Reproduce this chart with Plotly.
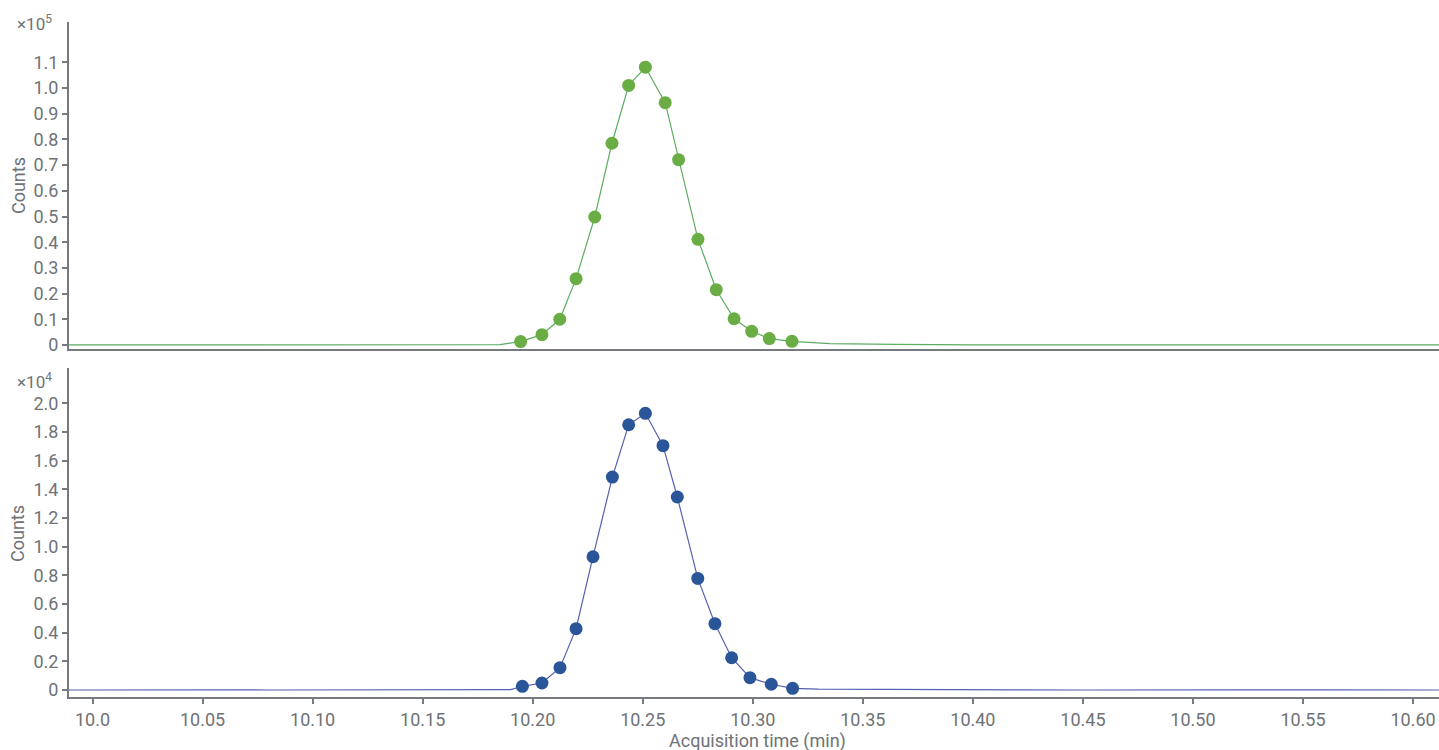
import plotly.graph_objects as go
from plotly.subplots import make_subplots

# ---- data ----
# peak scan points (acquisition time, min)
green_peak_t = [10.1945, 10.2042, 10.2123, 10.2197, 10.2282, 10.2360, 10.2436, 10.2512,
                10.2602, 10.2663, 10.2751, 10.2834, 10.2915, 10.2995, 10.3075, 10.3178]
green_peak_y = [1300, 4000, 10000, 25800, 49800, 78500, 101000, 108100,
                94300, 72100, 41100, 21500, 10200, 5300, 2500, 1400]

blue_peak_t = [10.1953, 10.2042, 10.2124, 10.2197, 10.2274, 10.2362, 10.2436, 10.2512,
               10.2592, 10.2657, 10.2750, 10.2828, 10.2904, 10.2987, 10.3084, 10.3181]
blue_peak_y = [260, 490, 1560, 4280, 9300, 14860, 18510, 19310,
               17050, 13470, 7790, 4630, 2250, 860, 400, 120]

# baseline segments of the traces outside the peak
green_pre_t = [9.989, 10.10, 10.185]
green_pre_y = [0, 0, 100]
green_post_t = [10.335, 10.365, 10.40, 10.50, 10.612]
green_post_y = [500, 200, 0, 0, 0]

blue_pre_t = [9.989, 10.01, 10.02, 10.04, 10.065, 10.08, 10.15, 10.19]
blue_pre_y = [0, 15, 0, 0, 15, 0, 0, 30]
blue_post_t = [10.33, 10.36, 10.39, 10.45, 10.52, 10.54, 10.56, 10.612]
blue_post_y = [60, 40, 15, 0, 15, 0, 12, 0]

top_ticks = [0, 10000, 20000, 30000, 40000, 50000, 60000, 70000, 80000, 90000, 100000, 110000]
top_labels = ["0", "0.1", "0.2", "0.3", "0.4", "0.5", "0.6", "0.7", "0.8", "0.9", "1.0", "1.1"]
bot_ticks = [0, 2000, 4000, 6000, 8000, 10000, 12000, 14000, 16000, 18000, 20000]
bot_labels = ["0", "0.2", "0.4", "0.6", "0.8", "1.0", "1.2", "1.4", "1.6", "1.8", "2.0"]
x_ticks = [10.0, 10.05, 10.10, 10.15, 10.20, 10.25, 10.30, 10.35, 10.40, 10.45, 10.50, 10.55, 10.60]
x_labels = ["10.0", "10.05", "10.10", "10.15", "10.20", "10.25", "10.30", "10.35",
            "10.40", "10.45", "10.50", "10.55", "10.60"]

# ---- styles ----
AXIS = "#76797e"
TXT = "#6f7277"
FONT = "Roboto"
G_LINE = "#5cad62"
G_MARK = "#6aad45"
B_LINE = "#5560b0"
B_MARK = "#2a5598"

fig = make_subplots(rows=2, cols=1, shared_xaxes=True, vertical_spacing=0.028)

fig.add_trace(go.Scatter(x=green_pre_t + green_peak_t + green_post_t,
                         y=green_pre_y + green_peak_y + green_post_y,
                         mode="lines", line=dict(color=G_LINE, width=1.2),
                         hoverinfo="skip", showlegend=False), row=1, col=1)
fig.add_trace(go.Scatter(x=green_peak_t, y=green_peak_y, mode="markers",
                         marker=dict(color=G_MARK, size=13),
                         showlegend=False), row=1, col=1)

fig.add_trace(go.Scatter(x=blue_pre_t + blue_peak_t + blue_post_t,
                         y=blue_pre_y + blue_peak_y + blue_post_y,
                         mode="lines", line=dict(color=B_LINE, width=1.2),
                         hoverinfo="skip", showlegend=False), row=2, col=1)
fig.add_trace(go.Scatter(x=blue_peak_t, y=blue_peak_y, mode="markers",
                         marker=dict(color=B_MARK, size=13),
                         showlegend=False), row=2, col=1)

top_dom = [0.5156, 1.0]
bot_dom = [0.0, 0.4874]

tickfont = dict(family=FONT, size=18, color=TXT)
fig.update_layout(
    width=1439, height=750,
    margin=dict(l=69, r=0, t=22, b=53),
    paper_bgcolor="white", plot_bgcolor="white",
    font=dict(family=FONT, size=18, color=TXT),
    showlegend=False,
    xaxis=dict(domain=[0, 1], range=[9.9893, 10.6118], showline=True, linecolor=AXIS,
               linewidth=2, showgrid=False, zeroline=False, ticks="", showticklabels=False),
    xaxis2=dict(domain=[0, 1], range=[9.9893, 10.6118], showline=True, linecolor=AXIS,
                linewidth=2, showgrid=False, zeroline=False, ticks="outside", ticklen=5,
                tickwidth=1.5, tickcolor=AXIS, tickvals=x_ticks, ticktext=x_labels,
                tickfont=tickfont),
    yaxis=dict(domain=top_dom, range=[-1560, 125700], showline=True, linecolor=AXIS,
               linewidth=2, showgrid=False, zeroline=False, ticks="outside", ticklen=5,
               tickwidth=1.5, tickcolor=AXIS, tickvals=top_ticks, ticktext=top_labels,
               tickfont=tickfont),
    yaxis2=dict(domain=bot_dom, range=[-488, 22470], showline=True, linecolor=AXIS,
                linewidth=2, showgrid=False, zeroline=False, ticks="outside", ticklen=5,
                tickwidth=1.5, tickcolor=AXIS, tickvals=bot_ticks, ticktext=bot_labels,
                tickfont=tickfont),
)

ann = dict(xref="paper", yref="paper", showarrow=False, xanchor="center", yanchor="middle")
fig.add_annotation(text="Counts", x=-0.0372, y=0.757, textangle=-90,
                   font=dict(family=FONT, size=18, color=TXT), **ann)
fig.add_annotation(text="Counts", x=-0.0372, y=0.2415, textangle=-90,
                   font=dict(family=FONT, size=18, color=TXT), **ann)
fig.add_annotation(text="Acquisition time (min)", x=0.5025, y=-0.0652,
                   font=dict(family=FONT, size=18, color=TXT), **ann)
fig.add_annotation(text="×10<sup>5</sup>", x=-0.0255, y=0.999,
                   font=dict(family=FONT, size=17, color=TXT), **ann)
fig.add_annotation(text="×10<sup>4</sup>", x=-0.0255, y=0.4685,
                   font=dict(family=FONT, size=17, color=TXT), **ann)

fig.write_html("out.html", config={"displayModeBar": False})

# remove the default page margin so the figure sits at the window's top-left corner
with open("out.html", "r", encoding="utf-8") as f:
    html = f.read()
html = html.replace("<head>", "<head><style>html,body{margin:0;padding:0;overflow:hidden;}</style>", 1)
with open("out.html", "w", encoding="utf-8") as f:
    f.write(html)
